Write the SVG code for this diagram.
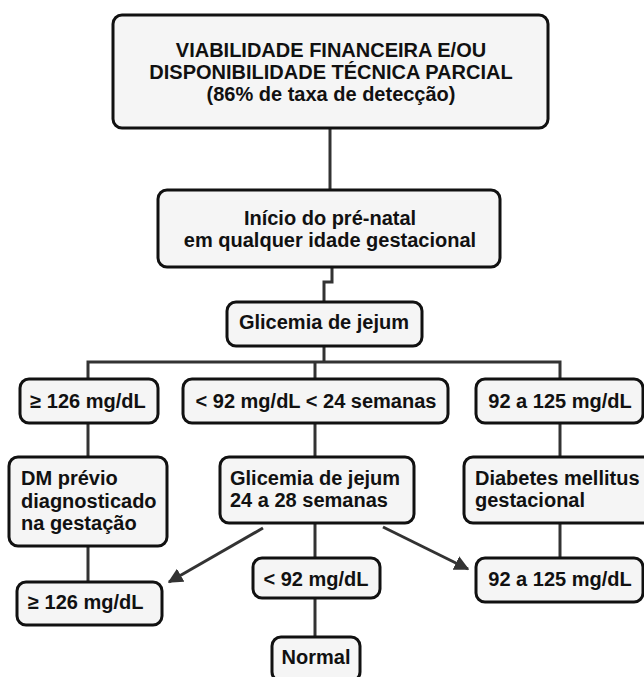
<svg xmlns="http://www.w3.org/2000/svg" width="644" height="677" viewBox="0 0 644 677">
<style>
.box{fill:#f5f5f5;stroke:#111;stroke-width:3}
.t{font-family:"Liberation Sans",Arial,sans-serif;font-weight:bold;font-size:20px;fill:#111}
.c{text-anchor:middle}
.ln{fill:none;stroke:#333;stroke-width:3}
</style>
<defs>
<marker id="ah" viewBox="0 0 10 10" refX="9" refY="5" markerWidth="5" markerHeight="5" orient="auto" markerUnits="strokeWidth">
<path d="M0,0 L10,5 L0,10 z" fill="#333"/>
</marker>
</defs>
<rect width="644" height="677" fill="#fff"/>
<g id="connectors">
<path class="ln" d="M330,128 V190"/>
<path class="ln" d="M332,267 V282 H324 V302"/>
<path class="ln" d="M324,346 V362"/>
<path class="ln" d="M88,379 V362 H560 V379"/>
<path class="ln" d="M315,362 V379"/>
<path class="ln" d="M88,423 V457"/>
<path class="ln" d="M315,423 V457"/>
<path class="ln" d="M560,423 V457"/>
<path class="ln" d="M88,546 V582"/>
<path class="ln" d="M315,523 V558"/>
<path class="ln" d="M315,598 V637"/>
<path class="ln" d="M560,523 V558"/>
<path class="ln" d="M263,528 L169,582" stroke-width="2.5" marker-end="url(#ah)"/>
<path class="ln" d="M383,527 L468,569" stroke-width="2.5" marker-end="url(#ah)"/>
</g>
<g id="n1"><rect class="box" x="113" y="15" width="435" height="113" rx="9"/>
<text class="t c" x="331" y="57">VIABILIDADE FINANCEIRA E/OU</text>
<text class="t c" x="331" y="79">DISPONIBILIDADE TÉCNICA PARCIAL</text>
<text class="t c" x="331" y="101">(86% de taxa de detecção)</text></g>
<g id="n2"><rect class="box" x="158" y="190" width="342" height="77" rx="9"/>
<text class="t c" x="330" y="225">Início do pré-natal</text>
<text class="t c" x="330" y="247">em qualquer idade gestacional</text></g>
<g id="n3"><rect class="box" x="227" y="302" width="195" height="44" rx="9"/>
<text class="t c" x="324" y="329">Glicemia de jejum</text></g>
<g id="n4"><rect class="box" x="20" y="379" width="138" height="44" rx="9"/>
<text class="t c" x="88" y="408">≥ 126 mg/dL</text></g>
<g id="n5"><rect class="box" x="183" y="379" width="265" height="44" rx="9"/>
<text class="t c" x="316" y="408">&lt; 92 mg/dL &lt; 24 semanas</text></g>
<g id="n6"><rect class="box" x="476" y="379" width="167" height="44" rx="9"/>
<text class="t c" x="560" y="408">92 a 125 mg/dL</text></g>
<g id="n7"><rect class="box" x="9" y="457" width="158" height="89" rx="9"/>
<text class="t" x="21" y="485">DM prévio</text>
<text class="t" x="21" y="508">diagnosticado</text>
<text class="t" x="21" y="530">na gestação</text></g>
<g id="n8"><rect class="box" x="220" y="457" width="194" height="66" rx="9"/>
<text class="t" x="230" y="485">Glicemia de jejum</text>
<text class="t" x="230" y="507">24 a 28 semanas</text></g>
<g id="n9"><rect class="box" x="464" y="457" width="190" height="66" rx="9"/>
<text class="t" x="475" y="485">Diabetes mellitus</text>
<text class="t" x="475" y="507">gestacional</text></g>
<g id="n10"><rect class="box" x="17" y="582" width="145" height="43" rx="9"/>
<text class="t" x="28" y="609">≥ 126 mg/dL</text></g>
<g id="n11"><rect class="box" x="253" y="558" width="127" height="40" rx="9"/>
<text class="t c" x="316" y="586">&lt; 92 mg/dL</text></g>
<g id="n12"><rect class="box" x="476" y="558" width="167" height="44" rx="9"/>
<text class="t c" x="560" y="586">92 a 125 mg/dL</text></g>
<g id="n13"><rect class="box" x="272" y="637" width="88" height="44" rx="9"/>
<text class="t c" x="316" y="664">Normal</text></g>
</svg>
